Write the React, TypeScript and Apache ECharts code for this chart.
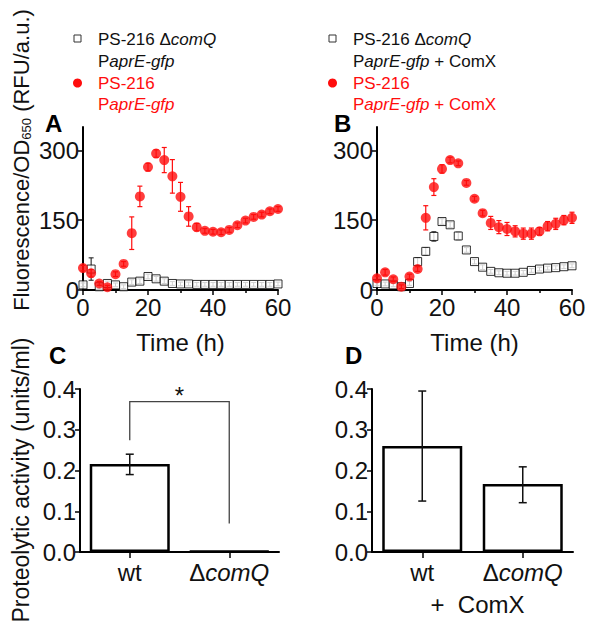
import React, { useEffect, useRef } from "react";
import * as echarts from "echarts";

// ---------- data ----------
const times = [0, 2.5, 5, 7.5, 10, 12.5, 15, 17.5, 20, 22.5, 25, 27.5, 30, 32.5, 35, 37.5, 40, 42.5, 45, 47.5, 50, 52.5, 55, 57.5, 60];

// Panel A
const aRed = [47, 36, 14, 6, 34, 56, 122, 201, 264, 293, 279, 244, 200, 158, 135, 127, 125, 124, 129, 139, 149, 157, 162, 169, 174];
const aRedErr = [6, 8, 4, 4, 5, 5, 35, 22, 8, 8, 27, 36, 31, 21, 8, 5, 5, 5, 5, 5, 5, 5, 5, 5, 5];
const aBlack = [11, 45, 7, 14, 11, 7, 17, 19, 29, 24, 19, 14, 13, 13, 12, 12, 12, 12, 12, 12, 12, 12, 12, 12, 13];
const aBlackErr = [4, 24, 4, 5, 4, 4, 5, 5, 5, 5, 5, 4, 4, 4, 4, 4, 4, 4, 4, 4, 4, 4, 4, 4, 4];

// Panel B
const bRed = [25, 38, 23, 7, 29, 45, 155, 221, 260, 279, 272, 230, 196, 165, 144, 135, 131, 126, 121, 121, 126, 137, 142, 150, 155];
const bRedErr = [5, 6, 5, 4, 5, 5, 26, 18, 9, 6, 5, 5, 5, 6, 14, 14, 14, 12, 12, 12, 8, 10, 12, 10, 12];
const bBlack = [14, 13, 11, 7, 14, 61, 83, 115, 147, 140, 116, 86, 61, 49, 40, 37, 36, 36, 38, 42, 45, 47, 48, 50, 52];
const bBlackErr = [4, 4, 4, 4, 4, 8, 8, 10, 6, 6, 8, 5, 5, 5, 4, 4, 4, 4, 4, 4, 4, 4, 4, 4, 4];

const fluoTicks = [0, 150, 300];

// Panels C and D
const strains = ["wt", "ΔcomQ"];
const cValues = [0.216, 0.002];
const cLow = [0.19, 0.002];
const cHigh = [0.24, 0.002];
const dValues = [0.26, 0.167];
const dLow = [0.125, 0.121];
const dHigh = [0.395, 0.209];
// significance bracket in C: [leftCat, rightCat, leftBottom, top, rightBottom, star]
const bracketC = [0, 1, 0.274, 0.369, 0.07, 0.395];

// texts
const legendA = ["PS-216 Δ{i|comQ}", "P{i|aprE-gfp}", "PS-216", "P{i|aprE-gfp}"];
const legendB = ["PS-216 Δ{i|comQ}", "P{i|aprE-gfp} + ComX", "PS-216", "P{i|aprE-gfp} + ComX"];

const FONT = "'Liberation Sans', Arial, Helvetica, sans-serif";
const RED = "#ff0d0d";
const INK = "#111";

function errRender(color: string, capHalf: number, lw: number) {
  return (params: any, api: any) => {
    const x = api.value(0);
    const lo = api.value(1);
    const hi = api.value(2);
    if (hi - lo <= 0.0001) return { type: "group", children: [] };
    const p1 = api.coord([x, lo]);
    const p2 = api.coord([x, hi]);
    const style = { stroke: color, lineWidth: lw };
    return {
      type: "group",
      children: [
        { type: "line", shape: { x1: p1[0], y1: p1[1], x2: p2[0], y2: p2[1] }, style },
        { type: "line", shape: { x1: p1[0] - capHalf, y1: p1[1], x2: p1[0] + capHalf, y2: p1[1] }, style },
        { type: "line", shape: { x1: p2[0] - capHalf, y1: p2[1], x2: p2[0] + capHalf, y2: p2[1] }, style },
      ],
    };
  };
}

function bracketRender(params: any, api: any) {
  const l = api.value(0);
  const r = api.value(1);
  const a = api.coord([l, api.value(2)]);
  const b = api.coord([l, api.value(3)]);
  const c = api.coord([r, api.value(3)]);
  const d = api.coord([r, api.value(4)]);
  const s = api.coord([l, api.value(5)]);
  return {
    type: "group",
    children: [
      {
        type: "polyline",
        shape: { points: [a, b, c, d] },
        style: { stroke: "#444", lineWidth: 1.3, fill: "none" },
      },
      {
        type: "text",
        x: (b[0] + c[0]) / 2,
        y: s[1] + 4,
        style: {
          text: "*",
          fontSize: 24,
          fontFamily: FONT,
          fill: INK,
          align: "center",
          verticalAlign: "middle",
          textAlign: "center",
          textVerticalAlign: "middle",
        },
      },
    ],
  };
}

const axisLineStyle = { color: "#000", width: 2 };

function timeAxis(gridIndex: number) {
  return {
    type: "value",
    gridIndex,
    min: 0,
    max: 60,
    interval: 20,
    axisLine: { show: true, onZero: false, lineStyle: axisLineStyle },
    axisTick: { show: true, inside: false, length: 5, lineStyle: { color: "#000", width: 1.5 } },
    minorTick: { show: true, splitNumber: 2, length: 3, lineStyle: { color: "#000", width: 1.5 } },
    splitLine: { show: false },
    axisLabel: { fontSize: 24, fontFamily: FONT, color: INK, margin: 5 },
    name: "Time (h)",
    nameLocation: "middle",
    nameGap: 40,
    nameTextStyle: { fontSize: 24, fontFamily: FONT, color: INK },
  };
}

function fluoAxis(gridIndex: number) {
  return {
    type: "value",
    gridIndex,
    min: 0,
    max: 350,
    axisLine: { show: true, onZero: false, lineStyle: axisLineStyle },
    axisTick: { show: true, inside: false, length: 5, customValues: fluoTicks, lineStyle: { color: "#000", width: 1.5 } },
    splitLine: { show: false },
    axisLabel: { fontSize: 24, fontFamily: FONT, color: INK, margin: 4, customValues: fluoTicks },
  };
}

function catAxis(gridIndex: number, name?: string) {
  const ax: any = {
    type: "category",
    gridIndex,
    data: strains,
    axisLine: { show: true, onZero: false, lineStyle: axisLineStyle },
    axisTick: { show: true, alignWithLabel: true, inside: false, length: 6, interval: 0, lineStyle: { color: "#000", width: 1.5 } },
    splitLine: { show: false },
    axisLabel: {
      interval: 0,
      hideOverlap: false,
      fontSize: 24,
      fontFamily: FONT,
      color: INK,
      margin: 8,
      formatter: (v: string) => (v.startsWith("Δ") ? "Δ{i|" + v.slice(1) + "}" : v),
      rich: { i: { fontStyle: "italic", fontSize: 24, fontFamily: FONT, color: INK } },
    },
  };
  if (name) {
    ax.name = name;
    ax.nameLocation = "middle";
    ax.nameGap = 40;
    ax.nameTextStyle = { fontSize: 24, fontFamily: FONT, color: INK, padding: [0, 0, 0, 10] };
  }
  return ax;
}

function activityAxis(gridIndex: number) {
  return {
    type: "value",
    gridIndex,
    min: 0,
    max: 0.4,
    interval: 0.1,
    axisLine: { show: true, onZero: false, lineStyle: axisLineStyle },
    axisTick: { show: true, inside: false, length: 5, lineStyle: { color: "#000", width: 1.5 } },
    splitLine: { show: false },
    axisLabel: { fontSize: 24, fontFamily: FONT, color: INK, margin: 4, formatter: (v: number) => v.toFixed(1) },
  };
}

function scatterPair(xi: number, red: number[], redErr: number[], black: number[], blackErr: number[]) {
  return [
    {
      type: "custom",
      xAxisIndex: xi,
      yAxisIndex: xi,
      renderItem: errRender("#111", 2.5, 1),
      encode: { x: 0, y: [1, 2] },
      data: times.map((t, i) => [t, black[i] - blackErr[i], black[i] + blackErr[i]]),
      z: 2,
      silent: true,
    },
    {
      type: "scatter",
      xAxisIndex: xi,
      yAxisIndex: xi,
      symbol: "rect",
      symbolSize: 8,
      itemStyle: { color: "#fff", borderColor: "#000", borderWidth: 1 },
      data: times.map((t, i) => [t, black[i]]),
      z: 3,
    },
    {
      type: "custom",
      xAxisIndex: xi,
      yAxisIndex: xi,
      renderItem: errRender(RED, 2.5, 1.2),
      encode: { x: 0, y: [1, 2] },
      data: times.map((t, i) => [t, red[i] - redErr[i], red[i] + redErr[i]]),
      z: 4,
      silent: true,
    },
    {
      type: "scatter",
      xAxisIndex: xi,
      yAxisIndex: xi,
      symbol: "circle",
      symbolSize: 10,
      itemStyle: { color: RED },
      data: times.map((t, i) => [t, red[i]]),
      z: 5,
    },
  ];
}

function barPair(xi: number, values: number[], low: number[], high: number[]) {
  return [
    {
      type: "bar",
      xAxisIndex: xi,
      yAxisIndex: xi,
      barWidth: 80,
      itemStyle: { color: "#fff", borderColor: "#000", borderWidth: 2.5 },
      data: values,
      z: 2,
    },
    {
      type: "custom",
      xAxisIndex: xi,
      yAxisIndex: xi,
      renderItem: errRender("#111", 4, 1.5),
      encode: { x: 0, y: [1, 2] },
      data: values.map((_, i) => [i, low[i], high[i]]),
      z: 3,
      silent: true,
    },
  ];
}

function legendGraphic(x: number, lines: string[]) {
  const rich = (fill: string) => ({ i: { fontStyle: "italic", fontSize: 17, fontFamily: FONT, fill } });
  const ys = [39, 61, 83, 104];
  const children: any[] = [
    { type: "rect", shape: { x: x - 24, y: 35, width: 7, height: 7 }, style: { fill: "#fff", stroke: "#333", lineWidth: 1 } },
    { type: "circle", shape: { cx: x - 20.5, cy: 83, r: 4.5 }, style: { fill: RED } },
  ];
  lines.forEach((t, i) => {
    const fill = i < 2 ? INK : RED;
    children.push({
      type: "text",
      x,
      y: ys[i],
      style: {
        text: t,
        fontSize: 17,
        fontFamily: FONT,
        fill,
        rich: rich(fill),
        align: "left",
        verticalAlign: "middle",
        textAlign: "left",
        textVerticalAlign: "middle",
      },
    });
  });
  return children;
}

function letter(t: string, x: number, y: number) {
  return {
    type: "text",
    x,
    y,
    style: { text: t, fontSize: 24, fontWeight: "bold", fontFamily: FONT, fill: "#000", align: "left", verticalAlign: "top", textAlign: "left", textVerticalAlign: "top" },
  };
}

function vLabel(t: string, x: number, y: number, size: number, rich?: any) {
  return {
    type: "text",
    x,
    y,
    rotation: Math.PI / 2,
    style: {
      text: t,
      fontSize: size,
      fontFamily: FONT,
      fill: INK,
      rich,
      align: "center",
      verticalAlign: "middle",
      textAlign: "center",
      textVerticalAlign: "middle",
    },
  };
}

export default function App() {
  const ref = useRef<HTMLDivElement>(null);
  useEffect(() => {
    if (!ref.current) return;
    const chart = echarts.init(ref.current, undefined, { renderer: "svg" });
    const option: any = {
      animation: false,
      backgroundColor: "#fff",
      grid: [
        { left: 83, top: 127, width: 195, height: 163 },
        { left: 377, top: 127, width: 195, height: 163 },
        { left: 80, top: 389, width: 199, height: 163 },
        { left: 372, top: 389, width: 201, height: 163 },
      ],
      xAxis: [timeAxis(0), timeAxis(1), catAxis(2), catAxis(3, "+  ComX")],
      yAxis: [fluoAxis(0), fluoAxis(1), activityAxis(2), activityAxis(3)],
      series: [
        ...scatterPair(0, aRed, aRedErr, aBlack, aBlackErr),
        ...scatterPair(1, bRed, bRedErr, bBlack, bBlackErr),
        ...barPair(2, cValues, cLow, cHigh),
        {
          type: "custom",
          xAxisIndex: 2,
          yAxisIndex: 2,
          renderItem: bracketRender,
          encode: { x: [0, 1], y: [2, 3, 4] },
          data: [bracketC],
          z: 4,
          silent: true,
        },
        ...barPair(3, dValues, dLow, dHigh),
      ],
      graphic: [
        ...legendGraphic(98, legendA),
        ...legendGraphic(353, legendB),
        letter("A", 45, 111),
        letter("B", 334, 111),
        letter("C", 49, 343),
        letter("D", 345, 343),
        vLabel("Fluorescence/OD{s|650} (RFU/a.u.)", 21, 160, 22, {
          s: { fontSize: 13, fontFamily: FONT, fill: INK, verticalAlign: "bottom", padding: [10, 0, 0, 0] },
        }),
        vLabel("Proteolytic activity (units/ml)", 21, 480, 23),
      ],
    };
    chart.setOption(option);
    return () => chart.dispose();
  }, []);
  return (
    <div
      ref={ref}
      style={{ position: "absolute", left: 0, top: 0, width: 594, height: 633, background: "#fff" }}
    />
  );
}
